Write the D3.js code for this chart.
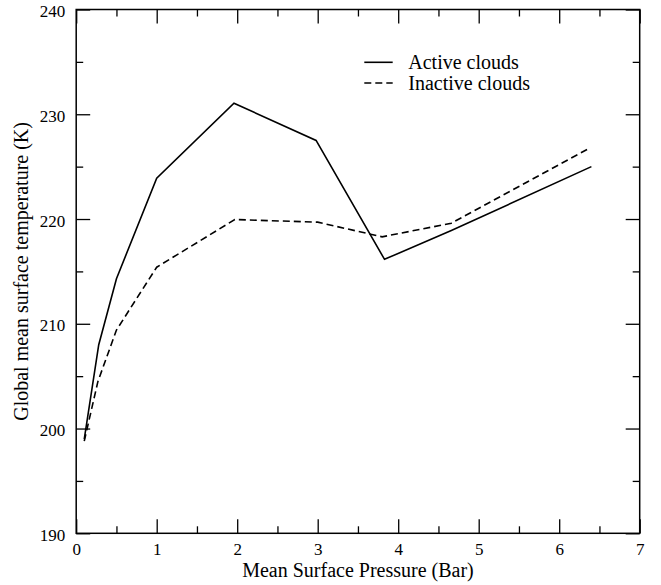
<!DOCTYPE html>
<html>
<head>
<meta charset="utf-8">
<script src="https://cdn.jsdelivr.net/npm/d3@7"></script>
<style>
  html, body { margin: 0; padding: 0; background: #fff; }
  svg { display: block; }
</style>
</head>
<body>
<svg id="chart" width="661" height="585"></svg>
<script>
// ---- data ----
const pressureActive   = [0.1, 0.28, 0.5, 1.0, 1.96, 2.98, 3.83, 4.66, 6.40];
const tempActive       = [199.0, 208.0, 214.3, 223.9, 231.05, 227.5, 216.15, 218.9, 225.0];
const pressureInactive = [0.1, 0.27, 0.5, 1.0, 1.97, 3.0, 3.80, 4.66, 6.36];
const tempInactive     = [198.8, 204.5, 209.4, 215.4, 219.95, 219.7, 218.3, 219.6, 226.7];
const xMajorTicks = [0, 1, 2, 3, 4, 5, 6, 7];
const xMinorTicks = [0.5, 1.5, 2.5, 3.5, 4.5, 5.5, 6.5];
const yMajorTicks = [190, 200, 210, 220, 230, 240];
const yMinorTicks = [195, 205, 215, 225, 235];
const seriesNames = ["Active clouds", "Inactive clouds"];
const xTitle = "Mean Surface Pressure (Bar)";
const yTitle = "Global mean surface temperature (K)";

const FONT = "'Liberation Serif', 'DejaVu Serif', 'Times New Roman', Times, serif";

// ---- layout ----
const L = 76.2, R = 639.7, T = 9.5, B = 533.3;
const svg = d3.select("#chart");
const x = d3.scaleLinear().domain([0, 7]).range([L, R]);
const y = d3.scaleLinear().domain([190, 240]).range([B, T]);

const MAJ = 14, MIN = 7;
function styleAxis(g) {
  g.attr("font-family", null).attr("font-size", null);
  g.select(".domain").remove();
  g.selectAll("line").attr("stroke", "#000").attr("stroke-width", 1.3);
}

// bottom
const gB = svg.append("g").attr("transform", `translate(0,${B})`)
  .call(d3.axisBottom(x).tickValues(xMajorTicks).tickSize(-MAJ).tickFormat(d3.format("d")));
styleAxis(gB);
gB.selectAll("text").attr("y", 21.7).attr("dy", null)
  .attr("font-family", FONT).attr("font-size", 17).attr("fill", "#000");
svg.append("g").attr("transform", `translate(0,${B})`)
  .call(d3.axisBottom(x).tickValues(xMinorTicks).tickSize(-MIN).tickFormat(""))
  .call(styleAxis);
// top
svg.append("g").attr("transform", `translate(0,${T})`)
  .call(d3.axisTop(x).tickValues(xMajorTicks).tickSize(-MAJ).tickFormat(""))
  .call(styleAxis);
svg.append("g").attr("transform", `translate(0,${T})`)
  .call(d3.axisTop(x).tickValues(xMinorTicks).tickSize(-MIN).tickFormat(""))
  .call(styleAxis);
// left
const gL = svg.append("g").attr("transform", `translate(${L},0)`)
  .call(d3.axisLeft(y).tickValues(yMajorTicks).tickSize(-MAJ).tickFormat(d3.format("d")));
styleAxis(gL);
gL.selectAll("text").attr("x", -11).attr("dy", "0.42em")
  .attr("font-family", FONT).attr("font-size", 17).attr("fill", "#000");
svg.append("g").attr("transform", `translate(${L},0)`)
  .call(d3.axisLeft(y).tickValues(yMinorTicks).tickSize(-MIN).tickFormat(""))
  .call(styleAxis);
// right
svg.append("g").attr("transform", `translate(${R},0)`)
  .call(d3.axisRight(y).tickValues(yMajorTicks).tickSize(-MAJ).tickFormat(""))
  .call(styleAxis);
svg.append("g").attr("transform", `translate(${R},0)`)
  .call(d3.axisRight(y).tickValues(yMinorTicks).tickSize(-MIN).tickFormat(""))
  .call(styleAxis);

// frame
svg.append("rect").attr("x", L).attr("y", T).attr("width", R - L).attr("height", B - T)
  .attr("fill", "none").attr("stroke", "#000").attr("stroke-width", 1.5);

// lines
const line = d3.line().x(d => x(d[0])).y(d => y(d[1]));
const activePts = pressureActive.map((p, i) => [p, tempActive[i]]);
const inactivePts = pressureInactive.map((p, i) => [p, tempInactive[i]]);
svg.append("path").datum(activePts).attr("d", line)
  .attr("fill", "none").attr("stroke", "#000").attr("stroke-width", 1.6);
svg.append("path").datum(inactivePts).attr("d", line)
  .attr("fill", "none").attr("stroke", "#000").attr("stroke-width", 1.6)
  .attr("stroke-dasharray", "7,4");

// legend
const lg = svg.append("g");
const legY = [62.3, 83];
const dashes = [null, "7,4"];
seriesNames.forEach((name, i) => {
  lg.append("line").attr("x1", 364.3).attr("x2", 392.7).attr("y1", legY[i]).attr("y2", legY[i])
    .attr("stroke", "#000").attr("stroke-width", 1.6)
    .attr("stroke-dasharray", dashes[i]);
  lg.append("text").attr("x", 408.3).attr("y", legY[i] + 6.8)
    .attr("font-family", FONT).attr("font-size", 20).attr("fill", "#000").text(name);
});

// titles
svg.append("text").attr("x", (L + R) / 2).attr("y", 576.7)
  .attr("text-anchor", "middle").attr("font-family", FONT).attr("font-size", 20).text(xTitle);
svg.append("text").attr("transform", `translate(28,${(T + B) / 2}) rotate(-90)`)
  .attr("text-anchor", "middle").attr("font-family", FONT).attr("font-size", 20).text(yTitle);
</script>
</body>
</html>
